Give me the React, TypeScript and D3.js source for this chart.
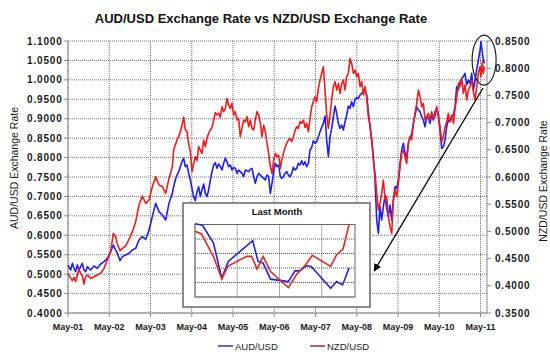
import React from 'react';
import * as d3 from 'd3';

const chartTitle = 'AUD/USD Exchange Rate vs NZD/USD Exchange Rate';
const leftTitle = 'AUD/USD Exchange Rate';
const rightTitle = 'NZD/USD Exchange Rate';
const insetTitle = 'Last Month';
const seriesNames = ['AUD/USD', 'NZD/USD'];

// decimal years
const dates = [
  2001.333, 2001.398, 2001.438, 2001.478, 2001.519, 2001.559, 2001.600, 2001.640, 2001.680, 2001.721,
  2001.761, 2001.802, 2001.882, 2001.963, 2002.044, 2002.125, 2002.206, 2002.287, 2002.367, 2002.432,
  2002.489, 2002.529, 2002.594, 2002.650, 2002.731, 2002.812, 2002.893, 2002.973, 2003.054, 2003.135,
  2003.216, 2003.297, 2003.377, 2003.458, 2003.539, 2003.620, 2003.701, 2003.781, 2003.862,
  2003.894, 2003.935, 2003.975, 2004.016, 2004.056, 2004.096, 2004.137, 2004.177, 2004.218, 2004.258,
  2004.298, 2004.339, 2004.379, 2004.420, 2004.460, 2004.500, 2004.541, 2004.581, 2004.622, 2004.662,
  2004.702, 2004.743, 2004.783, 2004.824, 2004.864, 2004.904, 2004.945, 2004.985, 2005.026, 2005.066,
  2005.106, 2005.147, 2005.187, 2005.228, 2005.268, 2005.308, 2005.349, 2005.389, 2005.430, 2005.470,
  2005.510, 2005.551, 2005.591, 2005.632, 2005.672, 2005.712, 2005.753, 2005.793, 2005.834, 2005.874,
  2005.914, 2005.955, 2005.995, 2006.036, 2006.076, 2006.116, 2006.157, 2006.197, 2006.238, 2006.278,
  2006.318, 2006.359, 2006.399, 2006.440, 2006.480,
  2006.513, 2006.554, 2006.594, 2006.635, 2006.675, 2006.715, 2006.756, 2006.796, 2006.837, 2006.877,
  2006.917, 2006.958, 2006.998, 2007.039, 2007.079, 2007.119, 2007.160, 2007.200, 2007.241, 2007.281,
  2007.321, 2007.362, 2007.402, 2007.443, 2007.483, 2007.523, 2007.564, 2007.604, 2007.645, 2007.685,
  2007.725, 2007.766, 2007.806, 2007.847, 2007.887, 2007.927, 2007.968, 2008.008, 2008.049, 2008.089,
  2008.129, 2008.170, 2008.210, 2008.251, 2008.291, 2008.331, 2008.372, 2008.412, 2008.453, 2008.493,
  2008.533, 2008.574, 2008.614, 2008.655, 2008.695, 2008.735, 2008.776, 2008.816, 2008.857, 2008.897,
  2008.937, 2008.978, 2009.018, 2009.059, 2009.099, 2009.140,
  2009.180, 2009.220, 2009.260, 2009.301, 2009.341, 2009.382, 2009.422, 2009.462, 2009.503, 2009.543,
  2009.584, 2009.624, 2009.664, 2009.705, 2009.745, 2009.786, 2009.826, 2009.866, 2009.907, 2009.947,
  2009.988, 2010.028, 2010.069, 2010.109, 2010.149, 2010.190, 2010.230, 2010.270, 2010.311, 2010.351,
  2010.392, 2010.432, 2010.473, 2010.513, 2010.553, 2010.594, 2010.634, 2010.675, 2010.715, 2010.755,
  2010.796, 2010.836, 2010.877, 2010.917, 2010.957, 2010.998, 2011.038, 2011.079, 2011.119, 2011.159,
  2011.200, 2011.240, 2011.281, 2011.321, 2011.345, 2011.378, 2011.402, 2011.426,
];

const audUsd = [
  0.5235, 0.5107, 0.5278, 0.5150, 0.5064, 0.5235, 0.5107, 0.5192, 0.5278, 0.5107,
  0.5064, 0.5192, 0.5107, 0.5210, 0.5150, 0.5261, 0.5321, 0.5407, 0.5578, 0.5750,
  0.5621, 0.5536, 0.5347, 0.5450, 0.5493, 0.5536, 0.5621, 0.5664, 0.5879, 0.5964,
  0.5896, 0.6136, 0.6479, 0.6822, 0.6608, 0.6522, 0.6393, 0.6822, 0.7080,
  0.7251, 0.7423, 0.7551, 0.7637, 0.7766, 0.7895, 0.7980, 0.7766, 0.7809, 0.7594,
  0.7423, 0.7208, 0.6994, 0.6891, 0.7123, 0.7251, 0.6994, 0.7165, 0.7320, 0.7080,
  0.6994, 0.7165, 0.7423, 0.7637, 0.7809, 0.7869, 0.7723, 0.7835, 0.7766, 0.7680,
  0.7852, 0.7980, 0.7895, 0.7766, 0.7809, 0.7680, 0.7749, 0.7723, 0.7594, 0.7680,
  0.7637, 0.7594, 0.7509, 0.7680, 0.7663, 0.7637, 0.7697, 0.7723, 0.7509, 0.7337,
  0.7509, 0.7594, 0.7551, 0.7509, 0.7466, 0.7423, 0.7551, 0.7509, 0.7080, 0.7337,
  0.7637, 0.7852, 0.7766, 0.7809, 0.7509,
  0.7466, 0.7509, 0.7594, 0.7637, 0.7551, 0.7509, 0.7594, 0.7749, 0.7680, 0.7723,
  0.7852, 0.7809, 0.7920, 0.7809, 0.7895, 0.7766, 0.7852, 0.8195, 0.8263, 0.8435,
  0.8366, 0.8409, 0.8538, 0.8667, 0.8778, 0.8881, 0.9070, 0.8452, 0.8023, 0.8538,
  0.8752, 0.9053, 0.9327, 0.9138, 0.8881, 0.8752, 0.8838, 0.8710, 0.8924, 0.9096,
  0.9327, 0.9267, 0.9439, 0.9310, 0.9499, 0.9550, 0.9524, 0.9610, 0.9653, 0.9696,
  0.9739, 0.9610, 0.9181, 0.8778, 0.8452, 0.8023, 0.7423, 0.6393, 0.6050, 0.6737,
  0.6393, 0.6737, 0.7037, 0.6694, 0.6479, 0.6779,
  0.6393, 0.6908, 0.7251, 0.7208, 0.7423, 0.7852, 0.8195, 0.8366, 0.8109, 0.8023,
  0.8366, 0.8538, 0.8581, 0.8881, 0.9096, 0.9310, 0.9224, 0.9181, 0.9053, 0.8967,
  0.8795, 0.9053, 0.9010, 0.8881, 0.9096, 0.8967, 0.9181, 0.9267, 0.9053, 0.8710,
  0.8238, 0.8281, 0.8452, 0.8795, 0.8967, 0.8924, 0.9053, 0.9096, 0.9310, 0.9825,
  0.9739, 0.9953, 1.0039, 1.0082, 1.0168, 0.9868, 0.9996, 0.9911, 1.0168, 0.9739,
  0.9996, 1.0254, 1.0511, 1.0768, 1.0983, 1.0683, 1.0511, 1.0425,
];

const nzdUsd = [
  0.4229, 0.4137, 0.4094, 0.4156, 0.4076, 0.4199, 0.4303, 0.4229, 0.4180, 0.4033,
  0.4168, 0.4199, 0.4137, 0.4168, 0.4199, 0.4229, 0.4321, 0.4474, 0.4627, 0.4964,
  0.4903, 0.4768, 0.4646, 0.4689, 0.4732, 0.4854, 0.4995, 0.5179, 0.5485, 0.5651,
  0.5516, 0.5577, 0.5822, 0.6006, 0.5853, 0.5822, 0.5700, 0.5975, 0.6190,
  0.6496, 0.6588, 0.6680, 0.6741, 0.6833, 0.6956, 0.7097, 0.6864, 0.6833, 0.6619,
  0.6466, 0.6098, 0.6251, 0.6374, 0.6300, 0.6558, 0.6496, 0.6435, 0.6680, 0.6558,
  0.6711, 0.6803, 0.6864, 0.6913, 0.7048, 0.7183, 0.7140, 0.7170, 0.7097, 0.7293,
  0.7201, 0.7262, 0.7446, 0.7324, 0.7262, 0.7354, 0.7140, 0.7201, 0.7048, 0.7078,
  0.6741, 0.6895, 0.7048, 0.7017, 0.7109, 0.6925, 0.7048, 0.6895, 0.6864, 0.7048,
  0.7201, 0.7140, 0.6987, 0.6741, 0.6956, 0.6833, 0.6619, 0.6435, 0.6190, 0.6067,
  0.6313, 0.6435, 0.6374, 0.6404, 0.6159,
  0.6313, 0.6435, 0.6545, 0.6619, 0.6680, 0.6711, 0.6650, 0.6741, 0.6852, 0.6925,
  0.6895, 0.7017, 0.6987, 0.7048, 0.6913, 0.6987, 0.6833, 0.7078, 0.7293, 0.7385,
  0.7477, 0.7385, 0.7630, 0.7783, 0.7906, 0.8028, 0.7599, 0.7140, 0.6895, 0.7140,
  0.7415, 0.7661, 0.7752, 0.7599, 0.7722, 0.7538, 0.7722, 0.7783, 0.7599, 0.7844,
  0.7906, 0.8181, 0.8090, 0.7906, 0.7967, 0.7844, 0.7906, 0.7661, 0.7752, 0.7507,
  0.7661, 0.7446, 0.7109, 0.6956, 0.6680, 0.6313, 0.6067, 0.5700, 0.5393, 0.5516,
  0.5700, 0.5945, 0.5577, 0.5639, 0.5271, 0.5087,
  0.4964, 0.5577, 0.5761, 0.5639, 0.5884, 0.6190, 0.6435, 0.6496, 0.6374, 0.6251,
  0.6619, 0.6741, 0.6680, 0.6987, 0.7170, 0.7354, 0.7599, 0.7477, 0.7293, 0.7354,
  0.7048, 0.7109, 0.7170, 0.7048, 0.7201, 0.7078, 0.7109, 0.7293, 0.7140, 0.6925,
  0.6650, 0.6741, 0.6925, 0.7017, 0.7170, 0.7017, 0.7140, 0.6987, 0.7262, 0.7446,
  0.7722, 0.7661, 0.7814, 0.7538, 0.7691, 0.7415, 0.7599, 0.7661, 0.7783, 0.7569,
  0.7415, 0.7661, 0.7906, 0.8028, 0.7844, 0.8120, 0.7906, 0.8028,
];

const xTickDates = [2001.333, 2002.333, 2003.333, 2004.333, 2005.333, 2006.333, 2007.333, 2008.333, 2009.333, 2010.333, 2011.333];
const xTickLabels = ['May-01', 'May-02', 'May-03', 'May-04', 'May-05', 'May-06', 'May-07', 'May-08', 'May-09', 'May-10', 'May-11'];
const audTicks = [0.4, 0.45, 0.5, 0.55, 0.6, 0.65, 0.7, 0.75, 0.8, 0.85, 0.9, 0.95, 1.0, 1.05, 1.1];
const nzdTicks = [0.35, 0.4, 0.45, 0.5, 0.55, 0.6, 0.65, 0.7, 0.75, 0.8, 0.85];

// inset: last month (day offsets)
const insetDaysAud = [0, 1.5, 3.7, 5.4, 6.7, 11.6, 12.7, 13.7, 15.2, 18.8, 20.1, 21.1, 22.3, 23.4, 27.3, 28.5, 29.7, 31];
const insetAud = [1.0905, 1.0895, 1.0773, 1.053, 1.0645, 1.0789, 1.0645, 1.0634, 1.0523, 1.0506, 1.058, 1.058, 1.0615, 1.0611, 1.046, 1.0506, 1.0483, 1.0599];
const insetDaysNzd = [0, 1.3, 3.7, 5.4, 6.6, 10.4, 11.4, 12.5, 13.7, 15.2, 18.8, 20.4, 22.1, 23.6, 27.3, 28.5, 29.8, 31];
const insetNzd = [0.8254, 0.8235, 0.808, 0.7925, 0.8011, 0.808, 0.808, 0.7992, 0.808, 0.7976, 0.7865, 0.7953, 0.8015, 0.8087, 0.8011, 0.8092, 0.8131, 0.83];
const insetDayTicks = [0, 8.5, 17, 25.5];
const insetAudTicks = [1.04, 1.05, 1.06, 1.07, 1.08, 1.09];

// annotation anchors (data space)
const highlight = { date: 2011.42, aud: 1.051 };
const arrowFrom = { date: 2011.394, aud: 0.979 };
const arrowTo = { date: 2008.755, aud: 0.508 };

const FONT = 'Liberation Sans, Arial, Helvetica, sans-serif';
const BLUE = '#1e1ef0';
const RED = '#f01c1c';
const GRID = '#6e6e6e';
const AXIS = '#8a8a8a';

export default function App() {
  const W = 550, H = 359;
  const L = 68, R = 487, T = 41, B = 313;
  const x = d3.scaleLinear().domain([2001.333, 2011.49]).range([L, R]);
  const yL = d3.scaleLinear().domain([0.4, 1.1]).range([B, T]);
  const yR = d3.scaleLinear().domain([0.35, 0.85]).range([B, T]);

  const n = Math.min(dates.length, audUsd.length, nzdUsd.length);
  const audPts: [number, number][] = [];
  const nzdPts: [number, number][] = [];
  for (let i = 0; i < n; i++) {
    audPts.push([dates[i], audUsd[i]]);
    nzdPts.push([dates[i], nzdUsd[i]]);
  }
  const audLine = d3.line<[number, number]>().x(d => x(d[0])).y(d => yL(d[1]));
  const nzdLine = d3.line<[number, number]>().x(d => x(d[0])).y(d => yR(d[1]));

  // inset
  const box = { x: 183, y: 203, w: 187, h: 104 };
  const IL = 195, IR = 355, IT = 224.5, IB = 297;
  const ix = d3.scaleLinear().domain([0, 32.2]).range([IL, IR]);
  const iyA = d3.scaleLinear().domain([1.04, 1.09]).range([IB, IT]);
  const iyN = d3.scaleLinear().domain([0.78, 0.83]).range([IB, IT]);
  const iAudLine = d3.line<number>().x((_, i) => ix(insetDaysAud[i])).y(d => iyA(d));
  const iNzdLine = d3.line<number>().x((_, i) => ix(insetDaysNzd[i])).y(d => iyN(d));

  const ax1 = x(arrowFrom.date), ay1 = yL(arrowFrom.aud);
  const ax2 = x(arrowTo.date), ay2 = yL(arrowTo.aud);

  return (
    <svg width={W} height={H} style={{ position: 'absolute', left: 0, top: 0, background: '#fff' }} fontFamily={FONT}>
      <defs>
        <marker id="ah" viewBox="0 0 10 10" refX="9" refY="5" markerWidth="6" markerHeight="6" orient="auto">
          <path d="M0,0 L10,5 L0,10 z" fill="#000" />
        </marker>
      </defs>
      <rect x={0} y={0} width={W} height={H} fill="#fff" />
      <text x={261} y={22.5} textAnchor="middle" fontSize={13} fontWeight="bold" fill="#111">{chartTitle}</text>

      {/* grid */}
      {audTicks.map(t => (
        <line key={'h' + t} x1={L} x2={R} y1={yL(t)} y2={yL(t)} stroke={GRID} strokeDasharray="1 1" />
      ))}
      {xTickDates.map(t => (
        <line key={'v' + t} x1={x(t)} x2={x(t)} y1={T} y2={B} stroke={GRID} strokeDasharray="1 1" />
      ))}

      {/* axes */}
      <line x1={L} x2={L} y1={T} y2={B} stroke={AXIS} />
      <line x1={R} x2={R} y1={T} y2={B} stroke={AXIS} />
      <line x1={L} x2={R} y1={B} y2={B} stroke={AXIS} />
      {audTicks.map(t => (
        <g key={'lt' + t}>
          <line x1={L - 4} x2={L} y1={yL(t)} y2={yL(t)} stroke={AXIS} />
          <text x={62.5} y={yL(t)} dy="0.35em" textAnchor="end" fontSize={10} fontWeight="bold" letterSpacing={0.8} fill="#1a1a1a">{t.toFixed(4)}</text>
        </g>
      ))}
      {nzdTicks.map(t => (
        <g key={'rt' + t}>
          <line x1={R} x2={R + 4} y1={yR(t)} y2={yR(t)} stroke={AXIS} />
          <text x={495} y={yR(t)} dy="0.35em" textAnchor="start" fontSize={10} fontWeight="bold" letterSpacing={0.8} fill="#1a1a1a">{t.toFixed(4)}</text>
        </g>
      ))}
      {xTickDates.map((t, i) => (
        <g key={'xt' + t}>
          <line x1={x(t)} x2={x(t)} y1={B} y2={B + 4} stroke={AXIS} />
          <text x={x(t)} y={329.5} textAnchor="middle" fontSize={9} fontWeight="bold" fill="#1a1a1a">{xTickLabels[i]}</text>
        </g>
      ))}

      <text transform={`translate(18,168) rotate(-90)`} textAnchor="middle" fontSize={10.5} fill="#1a1a1a">{leftTitle}</text>
      <text transform={`translate(547,181) rotate(-90)`} textAnchor="middle" fontSize={10.5} fill="#1a1a1a">{rightTitle}</text>

      {/* series */}
      <path d={audLine(audPts) || ''} fill="none" stroke={BLUE} strokeWidth={1.6} strokeLinejoin="round" />
      <path d={nzdLine(nzdPts) || ''} fill="none" stroke={RED} strokeWidth={1.6} strokeLinejoin="round" />

      {/* annotations */}
      <ellipse cx={x(highlight.date)} cy={yL(highlight.aud)} rx={12} ry={25} fill="none" stroke="#222" strokeWidth={1.2} />
      <line x1={ax1} y1={ay1} x2={ax2} y2={ay2} stroke="#000" strokeWidth={1.3} markerEnd="url(#ah)" />

      {/* inset */}
      <rect x={box.x} y={box.y} width={box.w} height={box.h} fill="#fff" stroke="#666" strokeWidth={1.5} />
      <text x={277} y={215} textAnchor="middle" fontSize={9.5} fontWeight="bold" fill="#111">{insetTitle}</text>
      {insetAudTicks.map(t => (
        <line key={'ih' + t} x1={IL} x2={IR} y1={iyA(t)} y2={iyA(t)} stroke="#555" strokeDasharray="1 1" />
      ))}
      {insetDayTicks.map(t => (
        <line key={'iv' + t} x1={ix(t)} x2={ix(t)} y1={IT} y2={IB} stroke="#555" strokeDasharray="1 1" />
      ))}
      <rect x={IL} y={IT} width={IR - IL} height={IB - IT} fill="none" stroke="#666" strokeWidth={1} />
      <path d={iAudLine(insetAud) || ''} fill="none" stroke="#2424d0" strokeWidth={1.6} />
      <path d={iNzdLine(insetNzd) || ''} fill="none" stroke="#e02828" strokeWidth={1.6} />

      {/* legend */}
      <line x1={218} x2={233} y1={346} y2={346} stroke="#000080" strokeWidth={1.2} />
      <text x={235} y={349.5} fontSize={9.5} fill="#1a1a1a">{seriesNames[0]}</text>
      <line x1={310} x2={325} y1={346} y2={346} stroke="#800000" strokeWidth={1.2} />
      <text x={327} y={349.5} fontSize={9.5} fill="#1a1a1a">{seriesNames[1]}</text>
    </svg>
  );
}
